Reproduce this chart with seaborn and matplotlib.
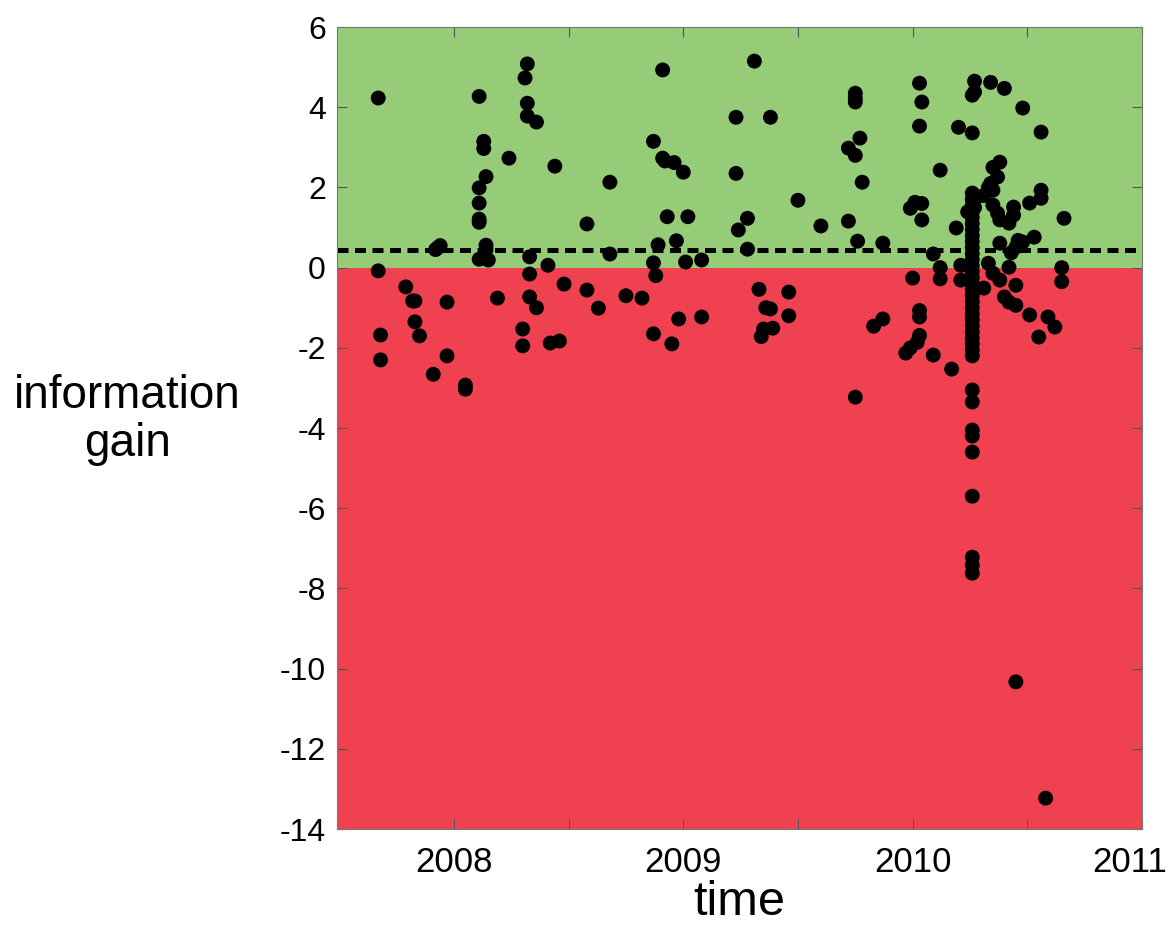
import seaborn as sns
import matplotlib.pyplot as plt
import matplotlib.transforms as mtransforms
import pandas as pd

sns.set_style("ticks")
plt.rcParams['font.family'] = ['Liberation Sans', 'DejaVu Sans']
plt.rcParams['axes.unicode_minus'] = False
plt.rcParams['text.color'] = 'black'
plt.rcParams['axes.labelcolor'] = 'black'
plt.rcParams['xtick.labelcolor'] = 'black'
plt.rcParams['ytick.labelcolor'] = 'black'

# points, grouped roughly by period
time_2007 = [2007.67, 2007.67, 2007.68, 2007.68, 2007.79, 2007.82, 2007.83, 2007.83, 2007.85,
             2007.91, 2007.92, 2007.94, 2007.93, 2007.97, 2007.97, 2008.05, 2008.05]
gain_2007 = [4.23, -0.08, -1.68, -2.30, -0.48, -0.83, -0.83, -1.35, -1.70,
             -2.66, 0.45, 0.55, 0.50, -0.86, -2.20, -2.93, -3.03]

time_2008a = [2008.11, 2008.11, 2008.11, 2008.11, 2008.11, 2008.14, 2008.13, 2008.13, 2008.14,
              2008.14, 2008.11, 2008.15, 2008.19, 2008.24, 2008.32, 2008.31, 2008.32, 2008.32,
              2008.36, 2008.33, 2008.33, 2008.33, 2008.36, 2008.30, 2008.30, 2008.41, 2008.44,
              2008.42, 2008.46, 2008.48]
gain_2008a = [4.27, 1.99, 1.61, 1.21, 1.13, 2.27, 3.15, 2.97, 0.56,
              0.45, 0.21, 0.19, -0.76, 2.73, 5.08, 4.73, 4.10, 3.78,
              3.63, 0.27, -0.16, -0.73, -1.00, -1.53, -1.95, 0.06, 2.53,
              -1.88, -1.83, -0.41]

time_2008b = [2008.58, 2008.58, 2008.63, 2008.68, 2008.68, 2008.75, 2008.82, 2008.91, 2008.87,
              2008.91, 2008.92, 2008.96, 2009.00, 2008.93, 2009.02, 2008.97, 2008.89, 2008.87,
              2009.01, 2009.08, 2008.88, 2008.98, 2009.08, 2008.87, 2008.95]
gain_2008b = [1.09, -0.56, -1.01, 2.13, 0.34, -0.70, -0.76, 4.93, 3.15,
              2.73, 2.66, 2.62, 2.38, 1.27, 1.27, 0.67, 0.57, 0.12,
              0.14, 0.19, -0.20, -1.28, -1.23, -1.65, -1.90]

time_2009 = [2009.23, 2009.23, 2009.24, 2009.28, 2009.28, 2009.31, 2009.38, 2009.50, 2009.33,
             2009.36, 2009.38, 2009.35, 2009.39, 2009.34, 2009.46, 2009.46,
             2009.60, 2009.72, 2009.76, 2009.87, 2009.75, 2009.75, 2009.75, 2009.77, 2009.72,
             2009.75, 2009.78, 2009.75, 2009.83, 2009.87]
gain_2009 = [3.75, 2.35, 0.94, 1.23, 0.46, 5.15, 3.75, 1.68, -0.54,
             -1.00, -1.03, -1.53, -1.51, -1.72, -0.61, -1.20,
             1.04, 1.16, 0.66, 0.61, 4.35, 4.22, 4.13, 3.23, 2.98,
             2.80, 2.13, -3.23, -1.46, -1.28]

time_2010a = [2010.03, 2010.04, 2010.03, 2010.12, 2010.20, 2010.01, 2010.04, 2009.99, 2010.04,
              2010.19, 2010.09, 2010.00, 2010.12, 2010.12, 2010.21, 2010.21, 2010.03, 2010.03,
              2010.03, 2010.02, 2009.99, 2009.97, 2010.09, 2010.17]
gain_2010a = [4.60, 4.13, 3.53, 2.43, 3.50, 1.63, 1.60, 1.48, 1.19,
              0.99, 0.34, -0.26, 0.00, -0.28, 0.06, -0.31, -1.07, -1.23,
              -1.69, -1.86, -2.00, -2.13, -2.18, -2.53]

# the dense column near 2010.26
time_column = [2010.26] * 37
gain_column = [1.86, 1.70, 1.55, 1.39, 1.25, 1.10, 0.95, 0.80, 0.65, 0.50, 0.35, 0.20, 0.05,
               -0.10, -0.25, -0.40, -0.55, -0.70, -0.85, -1.00, -1.15, -1.30, -1.45, -1.60,
               -1.75, -1.90, -2.05, -2.20, -3.05, -3.35, -4.05, -4.20, -4.60, -5.70, -7.22,
               -7.42, -7.62]

time_2010b = [2010.26, 2010.27, 2010.27, 2010.26, 2010.34, 2010.40, 2010.48, 2010.56, 2010.66,
              2010.65, 2010.65, 2010.24,
              2010.38, 2010.35, 2010.37, 2010.34, 2010.33, 2010.35, 2010.31, 2010.28, 2010.27,
              2010.35, 2010.37, 2010.38, 2010.44, 2010.44, 2010.42, 2010.51, 2010.56, 2010.56,
              2010.53, 2010.38, 2010.46, 2010.48, 2010.45, 2010.43, 2010.42,
              2010.33, 2010.35, 2010.38, 2010.31, 2010.45, 2010.40, 2010.42, 2010.45, 2010.51,
              2010.59, 2010.62, 2010.55, 2010.45, 2010.58]
gain_2010b = [3.36, 4.65, 4.38, 4.30, 4.62, 4.47, 3.98, 3.38, 1.23,
              0.00, -0.35, 1.39,
              2.63, 2.50, 2.26, 2.10, 2.00, 1.93, 1.80, 1.76, 1.50,
              1.56, 1.36, 1.19, 1.51, 1.31, 1.11, 1.61, 1.93, 1.73,
              0.76, 0.61, 0.68, 0.64, 0.51, 0.37, 0.01,
              0.11, -0.14, -0.31, -0.51, -0.44, -0.73, -0.86, -0.94, -1.18,
              -1.23, -1.48, -1.73, -10.33, -13.23]

threshold = 0.44
x_ticks = [2008, 2009, 2010, 2011]
x_minor = [2008.5, 2009.5, 2010.5]
y_ticks = list(range(-14, 7, 2))

data = pd.DataFrame({
    'time': time_2007 + time_2008a + time_2008b + time_2009 + time_2010a + time_column + time_2010b,
    'gain': gain_2007 + gain_2008a + gain_2008b + gain_2009 + gain_2010a + gain_column + gain_2010b,
})

fig = plt.figure(figsize=(11.72, 9.39), dpi=100, facecolor='white')
ax = fig.add_axes([0.2875, 0.1171, 0.6869, 0.8541])

ax.axhspan(0, 6, color='#96cb77', zorder=0, lw=0)
ax.axhspan(-14, 0, color='#ef4150', zorder=0, lw=0)
ax.axhline(threshold, color='black', lw=3.6, ls=(0, (2.2, 1.3)), zorder=2)

sns.scatterplot(x='time', y='gain', data=data, color='black', s=115,
                edgecolor='none', linewidth=0, ax=ax, zorder=3)

ax.set_xlim(2007.49, 2011.0)
ax.set_ylim(-14, 6)
ax.set_xticks(x_ticks)
ax.set_xticks(x_minor, minor=True)
ax.set_yticks(y_ticks)
ax.tick_params(axis='both', which='both', direction='in', top=True, right=True,
               length=7, width=0.8, color='#555555')
ax.tick_params(axis='x', labelsize=25, pad=12)
ax.tick_params(axis='y', labelsize=23, pad=8)
for s in ax.spines.values():
    s.set_color('#777777')
    s.set_linewidth(0.8)

# last year label sits at the figure edge, nudge it in a little
last = ax.get_xticklabels()[-1]
last.set_transform(last.get_transform() + mtransforms.ScaledTranslation(-12 / 100, 0, fig.dpi_scale_trans))

ax.set_xlabel('time', fontsize=35, va='top')
ax.xaxis.set_label_coords(0.5, -0.064)
ax.set_ylabel('information\ngain', fontsize=33, rotation=0, ha='center', va='center',
              linespacing=1.1)
ax.yaxis.set_label_coords(-0.26, 0.51)

plt.savefig('out.png', dpi=100, facecolor='white')
